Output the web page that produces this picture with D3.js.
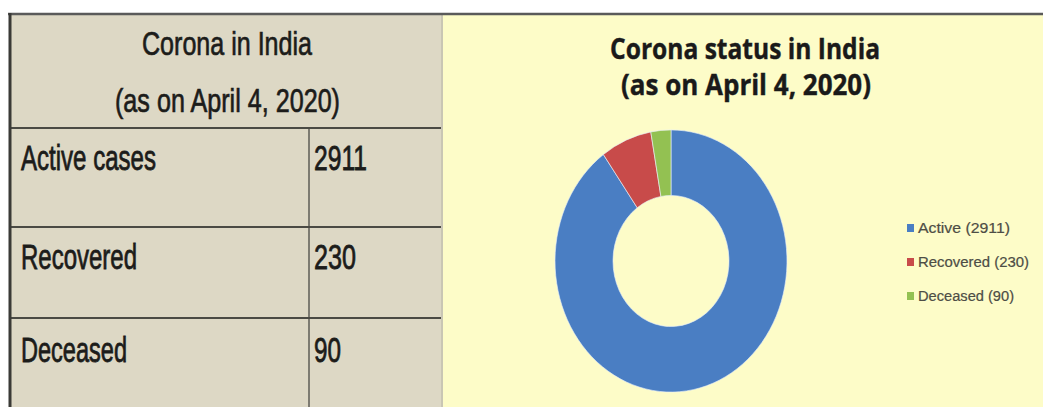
<!DOCTYPE html>
<html>
<head>
<meta charset="utf-8">
<script src="https://cdn.jsdelivr.net/npm/d3@7"></script>
<style>
  html, body { margin: 0; padding: 0; background: #ffffff; }
  svg { display: block; }
</style>
</head>
<body>
<svg id="chart" width="1043" height="407"></svg>
<script>
// Case counts, India, as on April 4, 2020
const categories   = ["Active", "Recovered", "Deceased"];
const tableLabels  = ["Active cases", "Recovered", "Deceased"];
const values       = [2911, 230, 90];
const sliceColors  = ["#4a7ec3", "#c84b4a", "#93c152"];

const tableTitle = ["Corona in India", "(as on April 4, 2020)"];
const chartTitle = ["Corona status in India", "(as on April 4, 2020)"];

const svg = d3.select("#chart");

// ---------- left panel: table ----------
const tbl = { x0: 10, x1: 441, top: 14, colX: 309, rowLines: [128, 227, 318], bottom: 407 };

svg.append("rect").attr("x", tbl.x0).attr("y", tbl.top)
  .attr("width", tbl.x1 - tbl.x0).attr("height", tbl.bottom - tbl.top)
  .attr("fill", "#ddd8c5");

// ---------- right panel background ----------
svg.append("rect").attr("x", tbl.x1).attr("y", tbl.top)
  .attr("width", 1043 - tbl.x1).attr("height", 407 - tbl.top)
  .attr("fill", "#fdfcc8");
svg.append("line").attr("x1", tbl.x1 + 1).attr("x2", tbl.x1 + 1)
  .attr("y1", tbl.top).attr("y2", 407)
  .attr("stroke", "#c9c6b4").attr("stroke-width", 2);

// grid lines of the table
tbl.rowLines.forEach(y => {
  svg.append("line").attr("x1", tbl.x0).attr("x2", tbl.x1)
    .attr("y1", y).attr("y2", y)
    .attr("stroke", "#4a4a44").attr("stroke-width", 2);
});
svg.append("line").attr("x1", tbl.colX).attr("x2", tbl.colX)
  .attr("y1", tbl.rowLines[0]).attr("y2", tbl.bottom)
  .attr("stroke", "#4a4a44").attr("stroke-width", 1.3);

// outer frame: top rule and thick left rule
svg.append("line").attr("x1", tbl.x0 - 2).attr("x2", 1043)
  .attr("y1", tbl.top).attr("y2", tbl.top)
  .attr("stroke", "#5a5a5a").attr("stroke-width", 2.5);
svg.append("line").attr("x1", tbl.x0).attr("x2", tbl.x0)
  .attr("y1", tbl.top - 1).attr("y2", 407)
  .attr("stroke", "#3a3a36").attr("stroke-width", 3);

const narrowFont = "'Liberation Sans Narrow', 'Liberation Sans', Arial, sans-serif";

function fitText(sel, txt, x, y, len, size, opts = {}) {
  const fill = opts.fill || "#1c1c1a";
  return sel.append("text")
    .attr("x", x).attr("y", y)
    .attr("textLength", len).attr("lengthAdjust", "spacingAndGlyphs")
    .attr("font-family", opts.family || narrowFont)
    .attr("font-size", size)
    .attr("font-weight", opts.weight || "normal")
    .attr("fill", fill)
    .attr("stroke", opts.stroke ? fill : "none")
    .attr("stroke-width", opts.stroke || 0)
    .text(txt);
}

// table heading
fitText(svg, tableTitle[0], 142, 55, 170, 34, { stroke: 0.7 });
fitText(svg, tableTitle[1], 115, 112, 225, 34, { stroke: 0.7 });

// table rows
const rowBase  = [170, 269, 362];
const labelLen = [135, 116, 106];
const valueLen = [53, 42, 27];
tableLabels.forEach((lab, i) => {
  fitText(svg, lab, 21, rowBase[i], labelLen[i], 35, { stroke: 0.8 });
  fitText(svg, String(values[i]), 314, rowBase[i], valueLen[i], 35, { stroke: 0.8 });
});

// ---------- right panel: donut ----------
const boldFont = "'Open Sans', 'Noto Sans', sans-serif";
fitText(svg, chartTitle[0], 610, 59, 270, 28, { family: boldFont, weight: "bold", fill: "#1a1a1a", stroke: 0.4 });
fitText(svg, chartTitle[1], 621, 95, 250, 28, { family: boldFont, weight: "bold", fill: "#1a1a1a", stroke: 0.4 });

const pie = d3.pie().sort(null).value(d => d.value);
const arcs = pie(categories.map((c, i) => ({ name: c, value: values[i] })));
const arc = d3.arc().innerRadius(58).outerRadius(116);

const color = d3.scaleOrdinal().domain(categories).range(sliceColors);

const donut = svg.append("g")
  .attr("transform", "translate(671,261) scale(1,1.13)");
donut.selectAll("path").data(arcs).join("path")
  .attr("d", arc)
  .attr("fill", d => color(d.data.name))
  .attr("stroke", "#e8f0f8").attr("stroke-width", 0.6);

// legend
const legendY = [228, 262, 296];
const legendLen = [92, 111, 96];
const legend = svg.append("g");
categories.forEach((c, i) => {
  legend.append("rect")
    .attr("x", 907).attr("y", legendY[i] - 4)
    .attr("width", 7).attr("height", 8)
    .attr("fill", color(c));
  fitText(legend, `${c} (${values[i]})`, 918, legendY[i] + 5, legendLen[i], 14,
    { family: narrowFont, fill: "#4d4d45", stroke: 0.2 });
});
</script>
</body>
</html>
